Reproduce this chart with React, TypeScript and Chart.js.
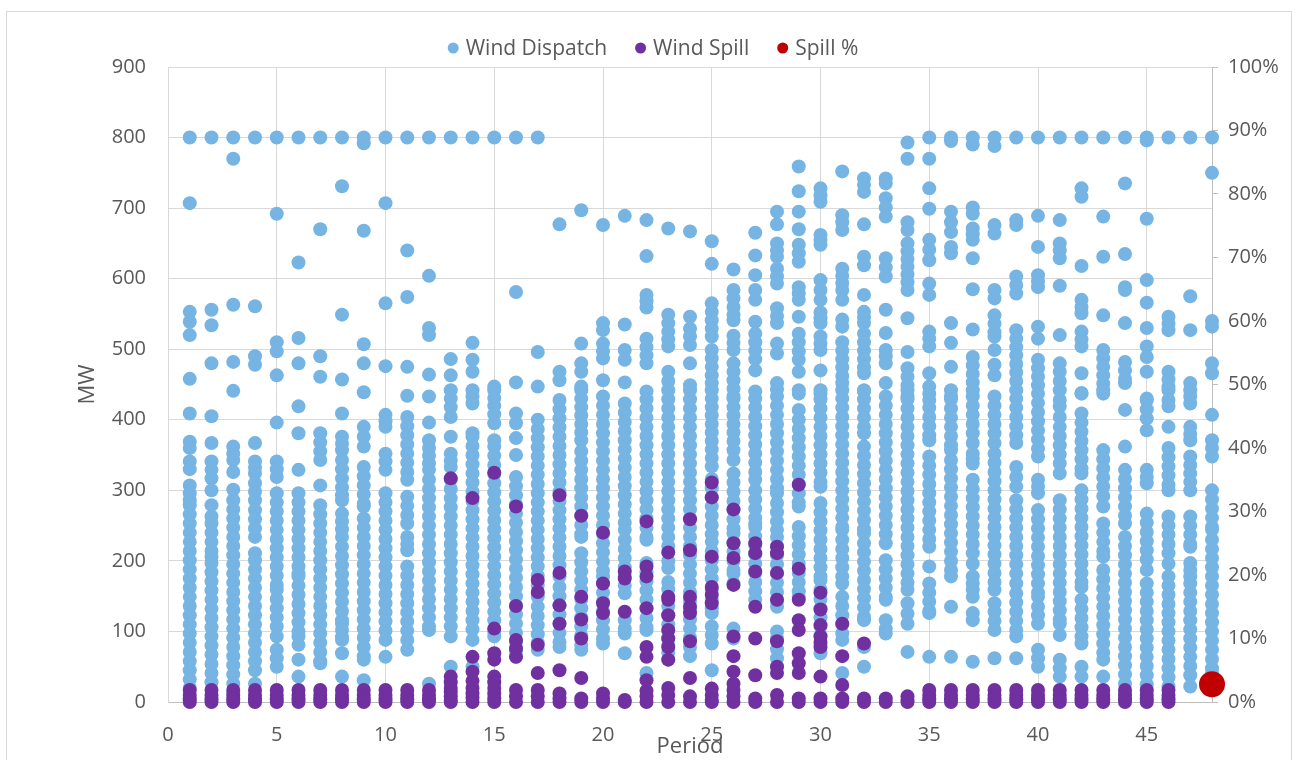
import React, { useEffect, useRef } from "react";
import { Chart, registerables } from "chart.js";

Chart.register(...registerables);

// ---------- DATA ----------
const periods = [1,2,3,4,5,6,7,8,9,10,11,12,13,14,15,16,17,18,19,20,21,22,23,24,25,26,27,28,29,30,31,32,33,34,35,36,37,38,39,40,41,42,43,44,45,46,47,48];

const xTickValues = [0,5,10,15,20,25,30,35,40,45];

// Wind Dispatch (MW) values observed per period (index 0 = period 1)
const windDispatch: number[][] = [
  [800,707,553,539,520,458,409,369,360,341,330,307,296,286,279,266,253,240,227,214,201,188,175,162,149,136,123,110,97,84,71,58,45,32,20],
  [800,556,534,480,405,367,341,329,317,300,279,263,253,240,227,214,206,197,184,171,158,145,132,119,106,93,80,67,54,41,28],
  [800,770,563,482,441,362,352,343,326,301,286,273,260,247,234,221,208,195,182,169,156,143,130,117,104,91,78,65,52,39,26,13],
  [800,561,490,478,367,341,332,324,310,298,286,272,259,246,234,211,201,188,175,162,149,136,123,110,97,84,71,58,45,26],
  [800,692,510,497,463,396,341,330,319,296,283,270,257,244,231,218,205,192,179,166,159,146,133,120,107,93,74,62,50],
  [800,623,516,480,419,381,329,296,283,270,257,244,231,218,205,192,182,178,165,152,139,126,113,100,93,81,60,36],
  [800,670,490,461,381,368,355,343,307,279,266,253,240,227,214,201,188,175,162,149,136,123,110,97,84,71,58,55],
  [800,731,549,457,409,376,366,357,343,330,317,304,293,286,267,256,245,234,220,207,194,181,168,155,142,129,116,111,102,92,88,69,36],
  [800,792,668,507,480,439,390,376,362,333,320,307,294,281,277,260,247,234,221,208,195,182,169,156,143,130,117,104,91,78,65,60,31],
  [800,707,565,476,407,398,390,352,341,329,296,283,270,257,244,231,218,205,192,179,166,153,140,127,114,101,88,64],
  [800,640,574,475,434,404,391,378,365,352,339,326,315,291,278,265,253,234,224,215,192,179,166,153,140,127,114,101,88,74],
  [800,604,530,520,464,433,396,371,360,349,338,329,315,302,289,276,263,250,237,224,211,198,185,172,159,146,133,120,107,102,26],
  [800,486,463,442,430,418,404,376,352,342,333,315,302,289,276,263,250,237,224,211,198,185,172,159,146,133,120,107,93,50],
  [800,509,485,468,442,433,423,381,376,363,350,337,324,311,298,285,272,259,246,233,220,207,194,181,168,155,142,129,116,103,88,50],
  [800,447,442,431,420,408,395,371,362,349,336,323,310,297,284,271,258,245,232,219,206,193,180,167,154,141,128,116,100,93],
  [800,581,453,409,395,374,350,319,306,293,280,267,254,241,228,215,202,189,176,163,150,137,124,111,98,85,72,64],
  [800,496,447,400,387,374,361,348,335,322,309,296,283,270,257,244,231,218,205,192,179,166,153,149,135,122,109,96,84,74],
  [677,468,456,428,415,402,389,376,363,350,337,324,311,298,285,272,259,246,233,220,207,194,178,163,150,137,124,111,98,85,78],
  [697,508,480,468,447,442,430,418,406,394,382,371,355,342,329,316,303,290,277,264,251,238,234,211,198,185,172,159,146,133,120,107,94,81,74],
  [676,537,527,508,497,487,456,433,420,407,394,381,368,355,342,329,316,303,290,277,264,251,238,225,212,199,186,178,168,155,142,129,116,103,90,83],
  [689,535,499,485,453,423,410,397,384,371,358,345,332,319,306,293,280,267,254,244,230,217,204,191,178,165,154,116,104,97,69],
  [683,632,577,568,559,515,503,491,480,440,429,416,403,390,377,364,351,338,325,312,299,286,273,260,247,234,230,197,184,171,158,145,132,119,106,102,41],
  [671,549,537,525,514,504,468,455,442,429,416,403,390,377,364,351,338,325,312,299,286,273,260,247,234,221,200,190,170,160,149,136,123,110,102,90,80,70,60],
  [667,546,529,518,506,480,449,442,429,416,403,390,377,364,351,338,325,312,299,286,273,260,247,234,221,208,195,182,169,156,143,130,117,104,91,78,65],
  [653,621,565,553,541,529,518,499,487,475,463,452,442,430,418,406,394,382,370,358,346,334,316,303,290,277,264,251,238,227,214,201,188,175,159,146,133,126,107,95,83,45],
  [613,584,572,560,549,541,519,509,499,480,468,456,444,433,430,418,406,394,382,370,357,343,324,311,298,285,272,259,246,239,226,213,200,187,182,168,104,90],
  [665,633,605,584,570,539,522,510,498,486,470,440,430,417,404,391,378,365,352,339,326,315,300,287,274,261,253,248,235,222,209,196,183,170,157,145],
  [695,677,650,640,631,614,603,593,558,547,537,508,494,452,443,433,420,407,394,381,368,355,342,329,316,303,296,282,269,256,244,234,221,208,195,182,169,156,143,135,100,90,75,62,50],
  [759,724,695,670,648,636,624,588,579,570,546,522,510,497,485,468,437,442,414,400,387,374,361,348,335,322,309,296,283,277,248,235,222,209,196,183,170,157,149],
  [728,718,709,662,655,648,598,584,570,552,544,537,518,508,499,470,437,442,429,416,403,390,377,364,351,338,325,312,305,282,269,256,243,230,217,204,191,178,173,159,146,133,120,107,94,81,69],
  [752,690,680,669,614,604,594,584,570,542,532,510,498,486,474,462,452,442,430,417,404,391,378,365,352,339,326,313,300,287,274,261,248,244,230,217,204,191,178,168,149,136,123,110,97,88,41],
  [742,733,723,677,631,619,577,553,545,537,522,510,498,486,474,466,440,442,429,416,403,390,381,362,349,336,323,310,297,284,271,258,245,239,225,212,199,186,173,160,147,134,121,116,78,50],
  [742,735,714,701,688,629,616,603,556,523,499,490,480,452,433,420,407,394,381,368,355,342,329,316,303,290,277,264,251,238,225,201,188,175,162,149,145,116,104,97],
  [793,770,680,669,650,639,628,617,606,595,584,544,496,473,461,449,433,442,429,416,403,390,377,364,351,338,325,312,299,286,273,260,247,234,221,208,195,182,169,159,140,125,111,71],
  [800,770,728,699,655,641,626,593,577,525,515,504,466,447,437,428,417,404,391,378,371,348,335,322,309,296,283,270,257,244,231,220,192,168,155,142,129,126,64],
  [800,795,695,680,666,645,636,537,509,475,433,442,429,416,403,390,377,364,357,343,330,317,304,291,278,265,252,239,226,213,200,187,178,135,64],
  [800,790,701,692,671,663,655,629,585,528,489,477,465,453,442,433,420,407,394,381,367,352,345,338,315,302,289,276,263,250,237,224,211,196,178,168,159,149,126,116,57],
  [800,788,676,664,584,572,548,536,524,518,499,478,463,433,420,407,394,381,367,352,339,326,313,300,287,274,261,248,235,222,209,196,183,170,159,140,128,115,102,62],
  [800,683,676,603,591,579,527,515,503,491,479,467,455,442,430,417,404,391,378,367,333,319,305,286,273,260,247,234,221,208,195,182,168,154,141,128,115,102,93,62],
  [800,689,645,605,596,588,532,515,485,473,461,449,437,424,411,398,385,372,359,348,315,305,296,272,259,246,233,220,207,194,181,168,155,149,135,123,111,74,62,50],
  [800,683,650,640,629,590,520,480,468,455,442,428,419,404,390,377,364,351,338,324,286,273,260,247,234,221,208,195,182,169,156,143,130,117,111,95,60,48,36],
  [800,728,716,618,570,560,551,525,514,504,466,438,437,409,396,383,370,357,344,331,324,300,287,274,261,248,235,222,209,196,183,170,163,145,132,119,106,93,83,50,36],
  [800,688,631,548,499,487,475,463,451,437,442,357,344,331,318,305,292,277,253,240,227,214,206,187,174,161,148,135,122,109,96,83,70,60,36],
  [800,735,635,588,584,537,482,470,458,452,414,362,329,316,303,290,277,264,253,234,221,208,195,182,169,156,143,130,117,104,91,78,65,52,39,26,12],
  [800,796,685,598,566,530,504,489,468,430,428,415,402,385,329,319,310,267,254,241,228,215,202,187,168,155,142,129,116,103,90,77,64,51,38,25,17],
  [800,546,536,527,468,457,447,442,428,419,390,360,347,334,321,308,300,263,250,237,224,211,196,178,165,152,139,126,113,100,87,74,61,48,35,22],
  [800,575,527,452,442,433,423,390,380,371,348,336,324,312,300,263,250,237,224,220,197,187,178,168,155,142,129,116,103,90,77,64,51,38,22],
  [800,750,540,532,480,466,407,371,360,348,300,287,274,261,248,244,230,217,204,191,178,165,152,139,126,113,100,87,74,61,48,41],
];

// Wind Spill (MW) values observed per period
const windSpill: number[][] = [
  [17,10,4,0],[17,10,4,0],[17,10,4,0],[17,10,4,0],[17,10,4,0],[17,10,4,0],
  [17,10,4,0],[17,10,4,0],[17,10,4,0],[17,10,4,0],[17,10,4,0],[17,10,4,0],
  [317,36,28,20,14,8,3,0],
  [289,64,43,30,20,12,6,0],
  [325,104,69,60,36,28,20,12,5,0],
  [277,136,88,76,64,17,8,0],
  [173,156,81,41,17,8,0],
  [293,183,137,111,45,12,5,0],
  [264,149,117,90,34,5,0],
  [240,168,140,126,12,5,0],
  [185,175,128,3,0],
  [256,192,178,133,78,64,31,16,8,0],
  [212,149,145,123,102,90,78,60,20,10,0],
  [259,215,149,135,126,86,34,8,0],
  [311,290,206,163,152,140,19,10,3,0],
  [273,225,204,166,93,65,43,26,17,8,0],
  [225,211,185,135,90,38,5,0],
  [220,211,183,145,86,50,41,10,0],
  [308,189,145,116,102,69,55,41,5,0],
  [155,131,109,93,85,78,36,5,0],
  [111,65,24,5,0],
  [83,5,0],
  [5,0],
  [8,3,0],
  [17,10,4,0],[17,10,4,0],[17,10,4,0],[17,10,4,0],[17,10,4,0],[17,10,4,0],
  [17,10,4,0],[17,10,4,0],[17,10,4,0],[17,10,4,0],[17,10,4,0],[17,10,4,0],
];

// Spill % (right axis)
const spillPercentPeriods = [48];
const spillPercentValues = [2.8];

const seriesLabels = ["Wind Dispatch", "Wind Spill", "Spill %"];
const seriesColors = ["#75B4E3", "#7030A0", "#C00000"];

// ---------- LEGEND PLUGIN ----------
const legendPlugin = {
  id: "excelLegend",
  afterDraw(chart: any) {
    const ctx = chart.ctx;
    ctx.save();
    ctx.font = '21px "Open Sans", sans-serif';
    const items = chart.data.datasets.map((d: any) => ({ label: d.label, color: d.backgroundColor }));
    const dotD = 11;
    const dotGap = 7;
    const itemGap = 28;
    const widths = items.map((it: any) => dotD + dotGap + ctx.measureText(it.label).width);
    const total = widths.reduce((a: number, b: number) => a + b, 0) + itemGap * (items.length - 1);
    let x = 646 - total / 2;
    const y = 36;
    items.forEach((it: any, i: number) => {
      ctx.fillStyle = it.color;
      ctx.beginPath();
      ctx.arc(x + dotD / 2, y, dotD / 2, 0, Math.PI * 2);
      ctx.fill();
      ctx.fillStyle = "#595959";
      ctx.textBaseline = "middle";
      ctx.textAlign = "left";
      ctx.fillText(it.label, x + dotD + dotGap, y + 1);
      x += widths[i] + itemGap;
    });
    ctx.restore();
  },
};

export default function App() {
  const canvasRef = useRef<HTMLCanvasElement | null>(null);

  useEffect(() => {
    if (!canvasRef.current) return;
    Chart.defaults.font.family = '"Open Sans", sans-serif';

    const dispatchPoints: { x: number; y: number }[] = [];
    windDispatch.forEach((vals, i) => vals.forEach((v) => dispatchPoints.push({ x: periods[i], y: v })));
    const spillPoints: { x: number; y: number }[] = [];
    windSpill.forEach((vals, i) => vals.forEach((v) => spillPoints.push({ x: periods[i], y: v })));
    const pctPoints = spillPercentPeriods.map((p, i) => ({ x: p, y: spillPercentValues[i] }));

    const chart = new Chart(canvasRef.current, {
      type: "scatter",
      data: {
        datasets: [
          {
            label: seriesLabels[0],
            data: dispatchPoints,
            backgroundColor: seriesColors[0],
            borderColor: seriesColors[0],
            pointRadius: 7,
            pointBorderWidth: 0,
            yAxisID: "y",
            order: 2,
            clip: false,
          },
          {
            label: seriesLabels[1],
            data: spillPoints,
            backgroundColor: seriesColors[1],
            borderColor: seriesColors[1],
            pointRadius: 7,
            pointBorderWidth: 0,
            yAxisID: "y",
            order: 1,
            clip: false,
          },
          {
            label: seriesLabels[2],
            data: pctPoints,
            backgroundColor: seriesColors[2],
            borderColor: seriesColors[2],
            pointRadius: 13,
            pointBorderWidth: 0,
            yAxisID: "y2",
            order: 0,
            clip: false,
          },
        ],
      },
      options: {
        responsive: false,
        animation: false,
        events: [],
        layout: { padding: { top: 55, left: 0, right: 0, bottom: 0 } },
        plugins: {
          legend: { display: false },
          tooltip: { enabled: false },
        },
        scales: {
          x: {
            type: "linear",
            position: "bottom",
            min: 0,
            max: 48,
            afterBuildTicks: (scale: any) => {
              scale.ticks = xTickValues.map((v) => ({ value: v }));
            },
            afterFit: (scale: any) => {
              scale.height = 58;
            },
            grid: { color: "#D9D9D9", lineWidth: 1, drawTicks: false },
            border: { color: "#BFBFBF", width: 1 },
            ticks: { color: "#595959", font: { size: 20 }, padding: 21, maxRotation: 0 },
            title: { display: true, text: "Period", color: "#595959", font: { size: 22 }, padding: { top: 0, bottom: 0 } },
          },
          y: {
            type: "linear",
            position: "left",
            min: 0,
            max: 900,
            ticks: { stepSize: 100, color: "#595959", font: { size: 20 }, padding: 22 },
            afterFit: (scale: any) => {
              scale.width = 161;
            },
            grid: { color: "#D9D9D9", lineWidth: 1, drawTicks: false },
            border: { color: "#D9D9D9", width: 1 },
            title: { display: true, text: "MW", color: "#595959", font: { size: 22 }, padding: { top: 68, bottom: 0 } },
          },
          y2: {
            type: "linear",
            position: "right",
            min: 0,
            max: 100,
            ticks: {
              stepSize: 10,
              color: "#595959",
              font: { size: 20 },
              padding: 10,
              callback: (v: any) => v + "%",
            },
            afterFit: (scale: any) => {
              scale.width = 79;
            },
            grid: { drawOnChartArea: false, drawTicks: true, tickLength: 6, color: "#BFBFBF" },
            border: { color: "#BFBFBF", width: 1 },
          },
        },
      },
      plugins: [legendPlugin],
    });

    return () => chart.destroy();
  }, []);

  return (
    <div
      style={{
        position: "absolute",
        left: 6,
        top: 11,
        width: 1286,
        height: 749,
        boxSizing: "border-box",
        borderTop: "1px solid #D9D9D9",
        borderLeft: "1px solid #D9D9D9",
        borderRight: "1px solid #D9D9D9",
        background: "#FFFFFF",
        overflow: "hidden",
      }}
    >
      <canvas ref={canvasRef} width={1284} height={748} style={{ display: "block", width: 1284, height: 748 }} />
    </div>
  );
}
